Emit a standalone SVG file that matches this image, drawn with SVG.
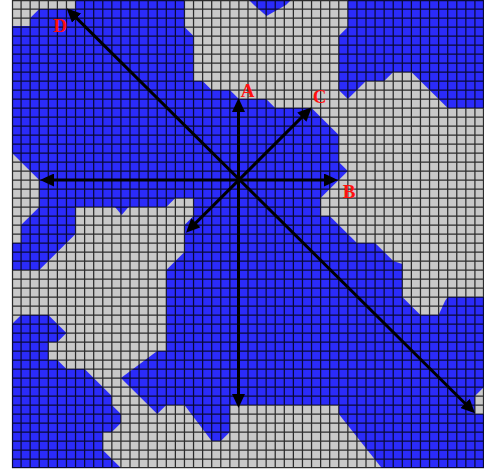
<svg xmlns="http://www.w3.org/2000/svg" width="484" height="474" viewBox="0 0 484 474">
<defs>
<style>
.gray{fill:#c9c9c9}
.blue{fill:#2b2bfa}
.grid{fill:none;stroke:#000;stroke-opacity:0.78;stroke-width:1.25}
.arrow{fill:none;stroke:#000;stroke-width:3;marker-start:url(#ah);marker-end:url(#ah)}
.lbl{font-family:"Liberation Serif","Times New Roman",serif;font-weight:bold;font-size:19px;fill:#ff1010;text-anchor:middle}
</style>
<marker id="ah" markerUnits="userSpaceOnUse" markerWidth="15" markerHeight="13" refX="10" refY="6.5" orient="auto-start-reverse" viewBox="0 0 15 13">
<path d="M0,0 L14,6.5 L0,13 Z" fill="#000"/>
</marker>
</defs>
<rect width="484" height="474" fill="#fff"/>
<g id="field">
<rect class="gray" x="12" y="0" width="472" height="468"/>
<polygon id="region-main" class="blue" points="12,26 30.15,26 30.15,18 39.23,9 75.54,9 75.54,0 184.46,0 184.46,27 193.54,36 193.54,81 202.62,81 211.69,90 229.85,90 238.92,99 266.15,99 275.23,108 311.54,108 338.77,135 338.77,162 347.85,171 320.62,198 320.62,216 329.69,216 347.85,234 356.92,243 375.08,243 393.23,261 402.31,264 402.31,297 420.46,315 438.62,315 445,301 447.69,297 484,297 484,387 474.92,396 474.92,414 484,414 484,468 381.7,468 338.77,414 338.77,405 229.85,405 229.85,432 220.77,441 211.69,441 184.46,405 166.31,405 157.23,414 120.92,378 157.23,351 166.31,351 166.31,270 184.46,252 184.46,225 193.54,216 193.54,198 175.38,198 166.31,207 128.5,207 121.7,215 115,207 75.54,207 75.54,234 57.38,252 39.23,270 12,270 12,243 21.08,243 21.08,225 39.23,207 39.23,180 12,153"/>
<polygon id="region-topright" class="blue" points="347.85,0 484,0 484,108 447.69,108 411.38,72 393.23,72 384.15,81 366,81 347.85,99 338.77,90 338.77,36 347.85,27"/>
<polygon id="region-topnotch" class="blue" points="249,0 254,5 266.5,16 286,5 291,0"/>
<polygon id="region-bottomleft" class="blue" points="12,324 21.08,315 48.31,315 66.46,333 57.38,342 48.31,342 48.31,360 57.38,360 66.46,369 84.62,369 111.85,396 111.85,405 120.92,414 120.92,423 111.85,432 102.77,432 102.77,450 120.92,468 12,468"/>
<path id="grid" class="grid" d="M12.5 0V468M21.08 0V468M30.15 0V468M39.23 0V468M48.31 0V468M57.38 0V468M66.46 0V468M75.54 0V468M84.62 0V468M93.69 0V468M102.77 0V468M111.85 0V468M120.92 0V468M130 0V468M139.08 0V468M148.15 0V468M157.23 0V468M166.31 0V468M175.38 0V468M184.46 0V468M193.54 0V468M202.62 0V468M211.69 0V468M220.77 0V468M229.85 0V468M238.92 0V468M248 0V468M257.08 0V468M266.15 0V468M275.23 0V468M284.31 0V468M293.38 0V468M302.46 0V468M311.54 0V468M320.62 0V468M329.69 0V468M338.77 0V468M347.85 0V468M356.92 0V468M366 0V468M375.08 0V468M384.15 0V468M393.23 0V468M402.31 0V468M411.38 0V468M420.46 0V468M429.54 0V468M438.62 0V468M447.69 0V468M456.77 0V468M465.85 0V468M474.92 0V468M483.5 0V468M12 0.5H484M12 9H484M12 18H484M12 27H484M12 36H484M12 45H484M12 54H484M12 63H484M12 72H484M12 81H484M12 90H484M12 99H484M12 108H484M12 117H484M12 126H484M12 135H484M12 144H484M12 153H484M12 162H484M12 171H484M12 180H484M12 189H484M12 198H484M12 207H484M12 216H484M12 225H484M12 234H484M12 243H484M12 252H484M12 261H484M12 270H484M12 279H484M12 288H484M12 297H484M12 306H484M12 315H484M12 324H484M12 333H484M12 342H484M12 351H484M12 360H484M12 369H484M12 378H484M12 387H484M12 396H484M12 405H484M12 414H484M12 423H484M12 432H484M12 441H484M12 450H484M12 459H484M12 467.5H484"/>
</g>
<g id="connectors">
<line id="arrow-horizontal" class="arrow" x1="44" y1="180" x2="334" y2="180"/>
<line id="arrow-vertical" class="arrow" x1="238.5" y1="102" x2="238.5" y2="404"/>
<line id="arrow-C" class="arrow" x1="188.8" y1="229.9" x2="308.9" y2="110.1"/>
<line id="arrow-D" class="arrow" x1="69.5" y1="11.1" x2="472.2" y2="410.5"/>
</g>
<g id="labels">
<text id="label-A" class="lbl" x="247.5" y="97">A</text>
<text id="label-B" class="lbl" x="349" y="198">B</text>
<text id="label-C" class="lbl" x="319.5" y="103">C</text>
<text id="label-D" class="lbl" x="60" y="32">D</text>
</g>
</svg>
